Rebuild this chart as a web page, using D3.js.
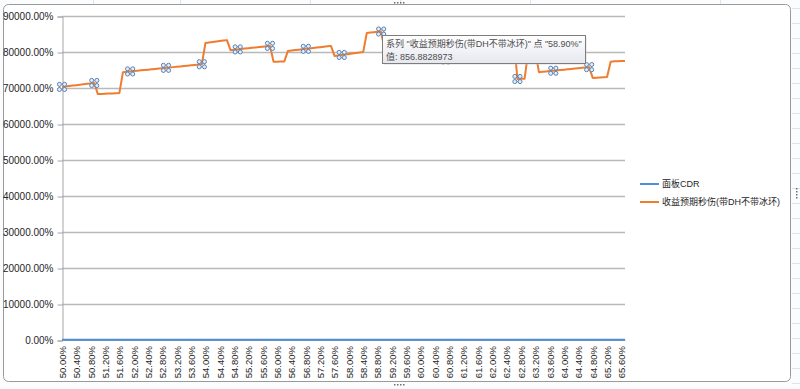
<!DOCTYPE html>
<html>
<head>
<meta charset="utf-8">
<script src="https://cdn.jsdelivr.net/npm/d3@7"></script>
<style>
	body { margin: 0; background: #fff; }
	svg text { font-family: "Liberation Sans", Arial, "Noto Sans CJK SC", sans-serif; }
</style>
</head>
<body>
<div id="chart"></div>
<script>
//////////////////////////// data /////////////////////////////////////////

// x categories (panel CDR, in %)
const categories = [
	50.0, 50.1, 50.2, 50.3, 50.4, 50.5, 50.6, 50.7, 50.8, 50.9,
	51.0, 51.1, 51.2, 51.3, 51.4, 51.5, 51.6, 51.7, 51.8, 51.9,
	52.0, 52.1, 52.2, 52.3, 52.4, 52.5, 52.6, 52.7, 52.8, 52.9,
	53.0, 53.1, 53.2, 53.3, 53.4, 53.5, 53.6, 53.7, 53.8, 53.9,
	54.0, 54.1, 54.2, 54.3, 54.4, 54.5, 54.6, 54.7, 54.8, 54.9,
	55.0, 55.1, 55.2, 55.3, 55.4, 55.5, 55.6, 55.7, 55.8, 55.9,
	56.0, 56.1, 56.2, 56.3, 56.4, 56.5, 56.6, 56.7, 56.8, 56.9,
	57.0, 57.1, 57.2, 57.3, 57.4, 57.5, 57.6, 57.7, 57.8, 57.9,
	58.0, 58.1, 58.2, 58.3, 58.4, 58.5, 58.6, 58.7, 58.8, 58.9,
	59.0, 59.1, 59.2, 59.3, 59.4, 59.5, 59.6, 59.7, 59.8, 59.9,
	60.0, 60.1, 60.2, 60.3, 60.4, 60.5, 60.6, 60.7, 60.8, 60.9,
	61.0, 61.1, 61.2, 61.3, 61.4, 61.5, 61.6, 61.7, 61.8, 61.9,
	62.0, 62.1, 62.2, 62.3, 62.4, 62.5, 62.6, 62.7, 62.8, 62.9,
	63.0, 63.1, 63.2, 63.3, 63.4, 63.5, 63.6, 63.7, 63.8, 63.9,
	64.0, 64.1, 64.2, 64.3, 64.4, 64.5, 64.6, 64.7, 64.8, 64.9,
	65.0, 65.1, 65.2, 65.3, 65.4, 65.5, 65.6, 65.7
];

// 面板CDR (fraction)
const cdrPanel = [
	0.500, 0.501, 0.502, 0.503, 0.504, 0.505, 0.506, 0.507, 0.508, 0.509,
	0.510, 0.511, 0.512, 0.513, 0.514, 0.515, 0.516, 0.517, 0.518, 0.519,
	0.520, 0.521, 0.522, 0.523, 0.524, 0.525, 0.526, 0.527, 0.528, 0.529,
	0.530, 0.531, 0.532, 0.533, 0.534, 0.535, 0.536, 0.537, 0.538, 0.539,
	0.540, 0.541, 0.542, 0.543, 0.544, 0.545, 0.546, 0.547, 0.548, 0.549,
	0.550, 0.551, 0.552, 0.553, 0.554, 0.555, 0.556, 0.557, 0.558, 0.559,
	0.560, 0.561, 0.562, 0.563, 0.564, 0.565, 0.566, 0.567, 0.568, 0.569,
	0.570, 0.571, 0.572, 0.573, 0.574, 0.575, 0.576, 0.577, 0.578, 0.579,
	0.580, 0.581, 0.582, 0.583, 0.584, 0.585, 0.586, 0.587, 0.588, 0.589,
	0.590, 0.591, 0.592, 0.593, 0.594, 0.595, 0.596, 0.597, 0.598, 0.599,
	0.600, 0.601, 0.602, 0.603, 0.604, 0.605, 0.606, 0.607, 0.608, 0.609,
	0.610, 0.611, 0.612, 0.613, 0.614, 0.615, 0.616, 0.617, 0.618, 0.619,
	0.620, 0.621, 0.622, 0.623, 0.624, 0.625, 0.626, 0.627, 0.628, 0.629,
	0.630, 0.631, 0.632, 0.633, 0.634, 0.635, 0.636, 0.637, 0.638, 0.639,
	0.640, 0.641, 0.642, 0.643, 0.644, 0.645, 0.646, 0.647, 0.648, 0.649,
	0.650, 0.651, 0.652, 0.653, 0.654, 0.655, 0.656, 0.657
];

// 收益预期秒伤(带DH不带冰环) (fraction)
const dpsExpected = [
	703.0, 704.2, 705.4, 706.7, 707.9, 709.1, 710.3, 711.5, 712.8, 714.0,
	683.0, 683.5, 684.0, 684.5, 685.0, 685.5, 686.0,
	744, 745, 746, 747, 748, 749, 750, 751, 752, 753, 754, 755,
	756, 757, 758, 759, 760, 761, 762, 763, 764, 765, 766,
	825.0, 826.3, 827.7, 829.0, 830.3, 831.7, 833.0,
	805.0, 806.0, 807.2, 808.3, 809.4, 810.5, 811.6, 812.7, 813.8, 814.8, 815.9, 817.0,
	773.0, 773.2, 773.5, 773.8,
	803.0, 804.2, 805.3, 806.5, 807.7, 808.8, 810.0, 811.2, 812.3, 813.5, 814.7, 815.8, 817.0,
	789.0, 790.4, 791.8, 793.1, 794.5, 795.9, 797.3, 798.6, 800.0,
	853.0, 854.0, 855.0, 856.0, 856.8828973,
	803.0, 803.9, 804.8, 805.6, 806.5, 807.4, 808.2, 809.1, 810.0,
	774.0, 774.7, 775.3, 776.0, 776.7, 777.3, 778.0, 778.7, 779.3, 780.0,
	805.0, 805.8, 806.6, 807.3, 808.1, 808.9, 809.7, 810.4, 811.2, 812.0,
	830.0, 830.7, 831.4, 832.1, 832.9, 833.6, 834.3, 835.0,
	725.0, 725.5, 726.0,
	800.0, 801.0, 802.0,
	744, 745, 746, 747, 748, 749, 750, 751, 752, 753, 754, 755, 756, 757, 758,
	728.0, 728.6, 729.2, 729.9, 730.5,
	773.0, 774.0, 774.5, 775.0, 775.0
];

// points that show selection handles (category index)
const handlePoints = [0, 9, 19, 29, 39, 49, 58, 68, 78, 89, 98, 107, 117, 127, 137, 147];

const yTicks = [0, 100, 200, 300, 400, 500, 600, 700, 800, 900];

const seriesNames = ["面板CDR", "收益预期秒伤(带DH不带冰环)"];
const tipLines = ['系列 "收益预期秒伤(带DH不带冰环)" 点 "58.90%"', "值: 856.8828973"];

//////////////////////////// sizes ////////////////////////////////////////

const width = 800;
const height = 389;
const plot = { left: 62, right: 625, top: 16, bottom: 340 };

const colors = ["#4f8fd8", "#ee7d31"];

//////////////////////////// svg //////////////////////////////////////////

const svg = d3.select("#chart").append("svg")
	.attr("width", width)
	.attr("height", height);

// spreadsheet behind the chart
svg.append("rect").attr("width", width).attr("height", height).attr("fill", "#fbfcfd");
const sheet = svg.append("g").attr("stroke", "#dde4ec").attr("stroke-width", 1);
[93, 180, 310, 400, 530, 720].forEach((x) => sheet.append("line").attr("x1", x + 0.5).attr("x2", x + 0.5).attr("y1", 0).attr("y2", 4));
d3.range(8, height, 15).forEach((y) => sheet.append("line").attr("x1", 792).attr("x2", width).attr("y1", y + 0.5).attr("y2", y + 0.5));

// chart frame
svg.append("rect")
	.attr("x", 3.5).attr("y", 4.5)
	.attr("width", 787).attr("height", 377)
	.attr("rx", 5)
	.attr("fill", "#fff")
	.attr("stroke", "#9a9a9a");

// frame handles
const handleDots = svg.append("g").attr("fill", "#6f6f6f");
[[394, 2], [394, 384]].forEach(([x, y]) => {
	for (let i = 0; i < 4; i++) handleDots.append("rect").attr("x", x + i * 3).attr("y", y).attr("width", 1.5).attr("height", 1.5);
});
for (let i = 0; i < 4; i++) handleDots.append("rect").attr("x", 796).attr("y", 188 + i * 3).attr("width", 1.5).attr("height", 1.5);

//////////////////////////// scales ///////////////////////////////////////

const x = d3.scalePoint()
	.domain(d3.range(categories.length))
	.range([plot.left, plot.right]);

const y = d3.scaleLinear()
	.domain([0, 900])
	.range([plot.bottom, plot.top]);

const pct = (d) => d3.format(".2f")(d * 100) + "%";

//////////////////////////// grid & axes //////////////////////////////////

svg.append("g")
	.selectAll("line")
	.data(yTicks.slice(1))
	.join("line")
	.attr("x1", plot.left)
	.attr("x2", plot.right)
	.attr("y1", (d) => Math.round(y(d)) + 0.5)
	.attr("y2", (d) => Math.round(y(d)) + 0.5)
	.attr("stroke", "#b9b9b9")
	.attr("stroke-width", 1.5);

const yAxis = svg.append("g")
	.attr("transform", `translate(${plot.left + 0.5},0.5)`)
	.call(d3.axisLeft(y).tickValues(yTicks).tickSize(5).tickPadding(4).tickFormat(pct));
yAxis.select(".domain").attr("stroke", "#a6a6a6");
yAxis.selectAll(".tick line").attr("stroke", "#a6a6a6");
yAxis.selectAll("text")
	.attr("fill", "#262626")
	.style("font-size", "10px");

const labelIdx = d3.range(0, categories.length, 4);
const xAxis = svg.append("g")
	.attr("transform", `translate(0,${plot.bottom})`)
	.call(d3.axisBottom(x).tickValues(labelIdx).tickSize(0).tickFormat((i) => d3.format(".2f")(categories[i]) + "%"));
xAxis.select(".domain").attr("stroke", "#a6a6a6");
xAxis.selectAll("text")
	.attr("fill", "#262626")
	.style("font-size", "9.5px")
	.attr("text-anchor", "end")
	.attr("transform", "rotate(-90)")
	.attr("x", -6)
	.attr("y", 0)
	.attr("dy", "0.35em");

//////////////////////////// lines ////////////////////////////////////////

const line = d3.line()
	.x((d, i) => x(i))
	.y((d) => y(d));

[cdrPanel, dpsExpected].forEach((series, k) => {
	svg.append("path")
		.datum(series)
		.attr("d", line)
		.attr("fill", "none")
		.attr("stroke", colors[k])
		.attr("stroke-width", 2)
		.attr("stroke-linejoin", "round");
});

// selection handles on the orange series
const handles = svg.append("g")
	.selectAll("g")
	.data(handlePoints)
	.join("g")
	.attr("transform", (i) => `translate(${x(i)},${y(dpsExpected[i])})`);
handles.append("rect")
	.attr("x", -2.6).attr("y", -2.6)
	.attr("width", 5.2).attr("height", 5.2)
	.attr("fill", "none")
	.attr("stroke", "#5a82b4")
	.attr("stroke-width", 0.8);
[[-2.6, -2.6], [2.6, -2.6], [-2.6, 2.6], [2.6, 2.6]].forEach(([dx, dy]) => {
	handles.append("circle")
		.attr("cx", dx).attr("cy", dy)
		.attr("r", 2)
		.attr("fill", "#e6eef8")
		.attr("stroke", "#5a82b4")
		.attr("stroke-width", 1);
});

//////////////////////////// legend ///////////////////////////////////////

const legend = svg.append("g")
	.selectAll("g")
	.data(seriesNames)
	.join("g")
	.attr("transform", (d, i) => `translate(640,${184 + i * 18})`);
legend.append("line")
	.attr("x1", 0).attr("x2", 19)
	.attr("stroke", (d, i) => colors[i])
	.attr("stroke-width", 2);
legend.append("text")
	.attr("x", 22)
	.attr("dy", "0.35em")
	.attr("fill", "#262626")
	.style("font-size", "9px")
	.text((d) => d);

//////////////////////////// tooltip //////////////////////////////////////

const defs = svg.append("defs");
const grad = defs.append("linearGradient").attr("id", "tipGrad").attr("x1", 0).attr("x2", 0).attr("y1", 0).attr("y2", 1);
grad.append("stop").attr("offset", "0%").attr("stop-color", "#ffffff");
grad.append("stop").attr("offset", "100%").attr("stop-color", "#e6e7ef");

const tip = svg.append("g").attr("transform", "translate(382,35)");
tip.append("rect")
	.attr("x", 1.5).attr("y", 1.5)
	.attr("width", 203).attr("height", 28)
	.attr("fill", "#c8c8c8")
	.attr("opacity", 0.6);
tip.append("rect")
	.attr("x", 0.5).attr("y", 0.5)
	.attr("width", 203).attr("height", 28)
	.attr("fill", "url(#tipGrad)")
	.attr("stroke", "#7d7d7d");
tip.selectAll("text.tip")
	.data(tipLines)
	.join("text")
	.attr("class", "tip")
	.attr("x", 4)
	.attr("y", (d, i) => 12 + i * 13)
	.attr("fill", "#4d4d4d")
	.style("font-size", "9px")
	.text((d) => d);
</script>
</body>
</html>
